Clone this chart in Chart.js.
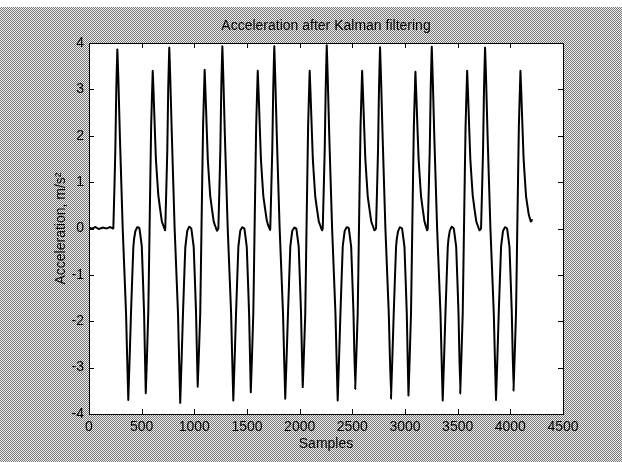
<!DOCTYPE html>
<html>
<head>
<meta charset="utf-8">
<script src="https://cdn.jsdelivr.net/npm/chart.js@4"></script>
<style>
html,body{margin:0;padding:0;background:#fff;}
#wrap{width:622px;height:462px;}
</style>
</head>
<body>
<div id="wrap"><canvas id="c" width="622" height="462"></canvas></div>
<script>
const chartTitle = 'Acceleration after Kalman filtering';
const xLabel = 'Samples';
const yLabel = 'Acceleration, m/s\u00B2';
const xTickValues = [0,500,1000,1500,2000,2500,3000,3500,4000,4500];
const yTickValues = [-4,-3,-2,-1,0,1,2,3,4];

const samples = [
0,30,60,95,130,165,200,
231,250,259,269,279,293,320,352,373,399,421,440,459,478,501,523,539,563,575,590,605,618,635,658,691,722,
724,743,752,762,772,786,813,845,866,892,914,933,952,971,994,1016,1032,1056,1068,1083,1098,1111,1128,1151,1184,1215,
1228,1247,1256,1266,1276,1290,1317,1349,1370,1396,1418,1437,1456,1475,1498,1520,1536,1560,1572,1587,1602,1615,1632,1655,1688,1719,
1721,1740,1749,1759,1769,1783,1810,1842,1863,1889,1911,1930,1949,1968,1991,2013,2029,2053,2065,2080,2095,2108,2125,2148,2181,2212,
2219,2238,2247,2257,2267,2281,2308,2340,2361,2387,2409,2428,2447,2466,2489,2511,2527,2551,2563,2578,2593,2606,2623,2646,2679,2710,
2725,2744,2753,2763,2773,2787,2814,2846,2867,2893,2915,2934,2953,2972,2995,3017,3033,3057,3069,3084,3099,3112,3129,3152,3185,3210,
3216,3235,3244,3254,3264,3278,3305,3337,3358,3384,3406,3425,3444,3463,3486,3508,3524,3548,3560,3575,3590,3603,3620,3643,3676,3707,
3722,3741,3750,3760,3770,3784,3811,3843,3864,3890,3912,3931,3950,3969,3992,4014,4030,4054,4066,4081,4096,4109,4126,4149,4175,4195,4205
];

const accel = [
0.02,0.0,0.03,-0.01,0.02,0.0,0.03,
0.0,1.7,3.0,3.86,3.2,2.0,0.0,-1.85,-3.7,-1.8,-0.4,-0.06,0.03,0.01,-0.38,-1.83,-3.55,-1.8,0.0,2.2,3.4,2.6,1.5,0.72,0.16,-0.04,
0.0,1.65,3.0,3.9,3.2,2.05,0.0,-1.83,-3.76,-1.85,-0.42,-0.05,0.04,0.0,-0.4,-1.8,-3.41,-1.83,0.02,2.2,3.42,2.6,1.48,0.7,0.15,-0.05,
0.0,1.7,3.05,3.93,3.2,2.0,0.0,-1.82,-3.71,-1.83,-0.4,-0.04,0.03,0.0,-0.41,-1.85,-3.53,-1.82,0.0,2.2,3.4,2.62,1.5,0.7,0.17,-0.03,
0.0,1.7,3.0,3.93,3.18,2.0,0.0,-1.83,-3.67,-1.84,-0.4,-0.05,0.02,0.0,-0.4,-1.83,-3.42,-1.85,0.0,2.18,3.4,2.6,1.5,0.69,0.16,-0.04,
0.0,1.72,3.0,3.95,3.2,2.0,0.0,-1.85,-3.71,-1.83,-0.39,-0.05,0.03,0.01,-0.4,-1.83,-3.46,-1.83,0.0,2.2,3.4,2.6,1.52,0.7,0.16,-0.04,
0.0,1.7,3.0,3.91,3.2,2.02,0.0,-1.83,-3.67,-1.83,-0.4,-0.06,0.03,0.0,-0.4,-1.84,-3.6,-1.83,0.0,2.2,3.38,2.58,1.5,0.7,0.15,-0.04,
0.0,1.7,3.0,3.92,3.2,2.0,0.0,-1.84,-3.71,-1.83,-0.4,-0.05,0.04,0.0,-0.4,-1.83,-3.56,-1.83,0.01,2.2,3.4,2.6,1.5,0.71,0.16,-0.04,
0.0,1.7,3.0,3.9,3.2,2.0,0.0,-1.83,-3.7,-1.82,-0.4,-0.05,0.03,0.0,-0.4,-1.83,-3.5,-1.83,0.0,2.2,3.4,2.6,1.5,0.7,0.3,0.15,0.18
];

const points = samples.map((s, i) => ({x: s, y: accel[i]}));
const FONT = '"Liberation Sans", Arial, Helvetica, sans-serif';

const figurePlugin = {
  id: 'figure',
  beforeDraw(chart) {
    const ctx = chart.ctx;
    const pc = document.createElement('canvas');
    pc.width = 2; pc.height = 2;
    const p = pc.getContext('2d');
    p.fillStyle = '#f0f0f0'; p.fillRect(0, 0, 2, 2);
    p.fillStyle = '#767676'; p.fillRect(0, 0, 1, 1); p.fillRect(1, 1, 1, 1);
    ctx.save();
    ctx.fillStyle = ctx.createPattern(pc, 'repeat');
    ctx.fillRect(0, 0, chart.width, chart.height);
    ctx.fillStyle = '#ffffff';
    ctx.fillRect(0, 0, chart.width, 7);
    const a = chart.chartArea;
    ctx.fillRect(a.left, a.top, a.right - a.left, a.bottom - a.top);
    ctx.restore();
  },
  afterDraw(chart) {
    const ctx = chart.ctx;
    const a = chart.chartArea;
    const xs = chart.scales.x, ys = chart.scales.y;
    ctx.save();
    ctx.strokeStyle = '#000';
    ctx.lineWidth = 1;
    ctx.strokeRect(Math.round(a.left) + 0.5, Math.round(a.top) + 0.5, Math.round(a.right - a.left), Math.round(a.bottom - a.top));
    const tl = 5;
    ctx.beginPath();
    xs.ticks.forEach(t => {
      const px = Math.round(xs.getPixelForValue(t.value)) + 0.5;
      ctx.moveTo(px, a.bottom); ctx.lineTo(px, a.bottom - tl);
      ctx.moveTo(px, a.top); ctx.lineTo(px, a.top + tl);
    });
    ys.ticks.forEach(t => {
      const py = Math.round(ys.getPixelForValue(t.value)) + 0.5;
      ctx.moveTo(a.left, py); ctx.lineTo(a.left + tl, py);
      ctx.moveTo(a.right, py); ctx.lineTo(a.right - tl, py);
    });
    ctx.stroke();
    ctx.fillStyle = '#000';
    ctx.font = '14px ' + FONT;
    ctx.textAlign = 'center';
    ctx.textBaseline = 'middle';
    ctx.fillText(chartTitle, (a.left + a.right) / 2, 26);
    ctx.restore();
  }
};

new Chart(document.getElementById('c'), {
  type: 'line',
  data: {
    datasets: [{
      data: points,
      borderColor: '#000000',
      borderWidth: 2,
      borderJoinStyle: 'round',
      borderCapStyle: 'round',
      pointRadius: 0,
      tension: 0.05,
      fill: false
    }]
  },
  options: {
    responsive: false,
    animation: false,
    devicePixelRatio: 1,
    layout: { padding: { top: 43, right: 59, left: 0, bottom: 0 } },
    plugins: { legend: { display: false }, tooltip: { enabled: false }, title: { display: false } },
    scales: {
      x: {
        type: 'linear', min: 0, max: 4500,
        afterBuildTicks: s => { s.ticks = xTickValues.map(v => ({value: v})); },
        afterFit: s => { s.height = 48; },
        grid: { display: false, drawTicks: false },
        border: { display: false },
        ticks: { color: '#000', font: { size: 14, family: FONT }, padding: 5, maxRotation: 0, autoSkip: false, callback: v => String(v) },
        title: { display: true, text: xLabel, color: '#000', font: { size: 14, family: FONT }, padding: { top: 0, bottom: 9 } }
      },
      y: {
        type: 'linear', min: -4, max: 4,
        afterBuildTicks: s => { s.ticks = yTickValues.map(v => ({value: v})); },
        afterFit: s => { s.width = 89; },
        grid: { display: false, drawTicks: false },
        border: { display: false },
        ticks: { color: '#000', font: { size: 14, family: FONT }, padding: 5, autoSkip: false, callback: v => String(v) },
        title: { display: true, text: yLabel, color: '#000', font: { size: 14, family: FONT }, padding: { top: 53, bottom: 0 } }
      }
    }
  },
  plugins: [figurePlugin]
});
</script>
</body>
</html>
